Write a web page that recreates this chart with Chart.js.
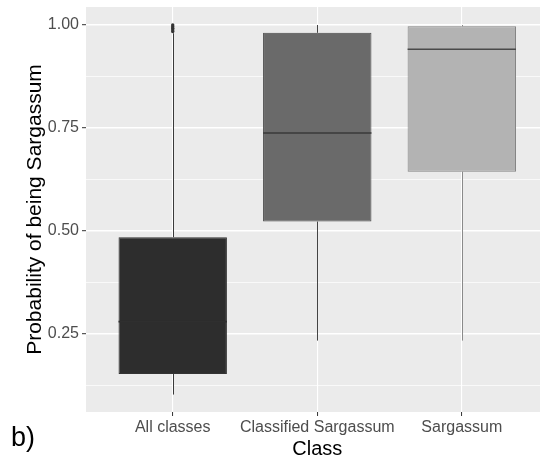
<!DOCTYPE html>
<html>
<head>
<meta charset="utf-8">
<script src="https://cdn.jsdelivr.net/npm/chart.js@4"></script>
<style>
  html, body { margin: 0; padding: 0; background: #ffffff; }
  #wrap { width: 544px; height: 456px; }
</style>
</head>
<body>
<div id="wrap"><canvas id="c" width="544" height="456"></canvas></div>
<script>
// Box plot summary per class
const categories   = ['All classes', 'Classified Sargassum', 'Sargassum'];
const lowerWhisker = [0.103, 0.234, 0.234];
const q1           = [0.153, 0.523, 0.644];
const median       = [0.280, 0.738, 0.941];
const q3           = [0.485, 0.981, 0.997];
const upperWhisker = [0.980, 1.000, 1.000];
const outliers     = [[0.984, 0.988, 0.992, 0.996, 1.000], [], []];

// Axis ticks
const yMajorTicks = [0.25, 0.50, 0.75, 1.00];
const yMinorTicks = [0.125, 0.375, 0.625, 0.875];

// Appearance
const boxFill    = ['#2d2d2d', '#6a6a6a', '#b3b3b3'];
const boxStroke  = ['#333333', '#4a4a4a', '#858585'];
const medianCol  = ['#2f2f2f', '#3a3a3a', '#4a4a4a'];
const whiskerCol = ['#3a3a3a', '#444444', '#8a8a8a'];
const FONT = '"Liberation Sans", Arial, Helvetica, sans-serif';

const isMajor = v => yMajorTicks.some(t => Math.abs(t - v) < 1e-9);

const panelBg = {
  id: 'panelBg',
  beforeDraw(chart) {
    const { ctx, chartArea: a } = chart;
    ctx.save();
    ctx.fillStyle = '#ebebeb';
    ctx.fillRect(a.left, a.top, a.right - a.left, a.bottom - a.top);
    ctx.restore();
  }
};

const boxParts = {
  id: 'boxParts',
  beforeDatasetsDraw(chart) {
    const { ctx, scales: { x, y } } = chart;
    ctx.save();
    ctx.lineWidth = 1;
    categories.forEach((c, i) => {
      const px = Math.round(x.getPixelForValue(i + 1)) + 0.5;
      ctx.strokeStyle = whiskerCol[i];
      ctx.beginPath();
      ctx.moveTo(px, y.getPixelForValue(q3[i]));
      ctx.lineTo(px, y.getPixelForValue(upperWhisker[i]));
      ctx.moveTo(px, y.getPixelForValue(q1[i]));
      ctx.lineTo(px, y.getPixelForValue(lowerWhisker[i]));
      ctx.stroke();
    });
    ctx.restore();
  },
  afterDatasetsDraw(chart) {
    const { ctx, scales: { y } } = chart;
    const bars = chart.getDatasetMeta(0).data;
    ctx.save();
    ctx.lineWidth = 1.6;
    bars.forEach((bar, i) => {
      const py = y.getPixelForValue(median[i]);
      ctx.strokeStyle = medianCol[i];
      ctx.beginPath();
      ctx.moveTo(bar.x - bar.width / 2, py);
      ctx.lineTo(bar.x + bar.width / 2, py);
      ctx.stroke();
    });
    ctx.restore();
  }
};

const labels = {
  id: 'labels',
  afterDraw(chart) {
    const { ctx, chartArea: a, scales: { x } } = chart;
    ctx.save();
    ctx.fillStyle = '#000000';
    // x-axis title
    ctx.font = '20px ' + FONT;
    ctx.textAlign = 'center';
    ctx.textBaseline = 'alphabetic';
    ctx.fillText('Class', x.getPixelForValue(2), 455);
    // y-axis title
    ctx.font = '21px ' + FONT;
    ctx.translate(35, (a.top + a.bottom) / 2);
    ctx.rotate(-Math.PI / 2);
    ctx.textBaseline = 'middle';
    ctx.fillText('Probability of being Sargassum', 0, 0);
    ctx.restore();
    // panel tag
    ctx.save();
    ctx.fillStyle = '#000000';
    ctx.font = '27px ' + FONT;
    ctx.textAlign = 'left';
    ctx.textBaseline = 'alphabetic';
    ctx.fillText('b)', 11, 446);
    ctx.restore();
  }
};

const boxData = categories.map((c, i) => ({ x: i + 1, y: [q1[i], q3[i]] }));
const outlierData = [];
outliers.forEach((vals, i) => vals.forEach(v => outlierData.push({ x: i + 1, y: v })));

new Chart(document.getElementById('c'), {
  data: {
    datasets: [
      {
        type: 'bar',
        data: boxData,
        backgroundColor: boxFill,
        borderColor: boxStroke,
        borderWidth: 1,
        borderSkipped: false,
        barPercentage: 0.75,
        categoryPercentage: 1.0
      },
      {
        type: 'scatter',
        data: outlierData,
        pointRadius: 1.7,
        pointBackgroundColor: '#333333',
        pointBorderWidth: 0
      }
    ]
  },
  options: {
    responsive: false,
    animation: false,
    devicePixelRatio: 1,
    layout: { padding: { top: 7, right: 0, bottom: 0, left: 0 } },
    plugins: { legend: { display: false }, tooltip: { enabled: false } },
    scales: {
      x: {
        type: 'linear',
        min: 0.4,
        max: 3.541,
        offset: false,
        afterBuildTicks: s => { s.ticks = categories.map((c, i) => ({ value: i + 1 })); },
        afterFit: s => { s.height = 44; s.paddingLeft = 0; s.paddingRight = 0; },
        border: { display: false },
        grid: { offset: false, color: '#ffffff', lineWidth: 1.1, tickLength: 4, tickColor: '#333333', tickWidth: 1 },
        ticks: {
          callback: v => categories[Math.round(v) - 1],
          color: '#4d4d4d',
          font: { family: FONT, size: 16 },
          padding: 2,
          autoSkip: false,
          maxRotation: 0
        }
      },
      y: {
        type: 'linear',
        min: 0.0607,
        max: 1.0437,
        afterBuildTicks: s => {
          s.ticks = [...yMinorTicks, ...yMajorTicks].sort((a, b) => a - b).map(v => ({ value: v }));
        },
        afterFit: s => { s.width = 86; s.paddingTop = 0; s.paddingBottom = 0; },
        border: { display: false },
        grid: {
          color: '#ffffff',
          lineWidth: ctx => (ctx.tick && isMajor(ctx.tick.value)) ? 1.4 : 0.7,
          tickLength: 4,
          tickWidth: 1,
          tickColor: ctx => (ctx.tick && isMajor(ctx.tick.value)) ? '#333333' : 'rgba(0,0,0,0)'
        },
        ticks: {
          callback: v => isMajor(v) ? v.toFixed(2) : '',
          color: '#4d4d4d',
          font: { family: FONT, size: 16 },
          padding: 3,
          autoSkip: false
        }
      }
    }
  },
  plugins: [panelBg, boxParts, labels]
});
</script>
</body>
</html>
